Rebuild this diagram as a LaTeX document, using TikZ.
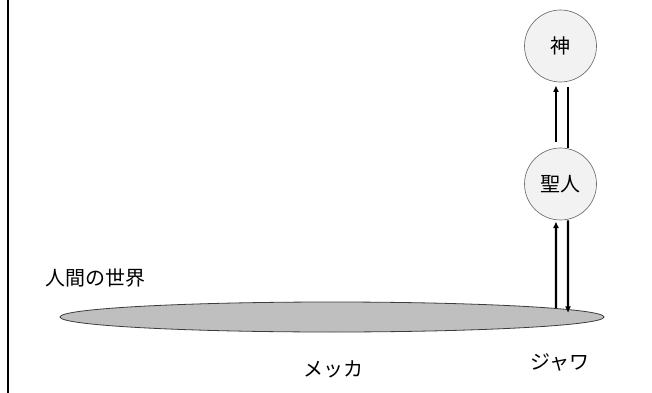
\documentclass[tikz,border=0pt]{standalone}
\usepackage{fontspec}
\newfontfamily\jp{Noto Sans CJK JP}
\usepackage{tikz}
\usetikzlibrary{arrows.meta}
\usepackage{xcolor}

\tikzset{
  being/.style={circle, draw={rgb, 255:red, 110; green, 110; blue, 110}, line width=0.5pt,
    fill={rgb, 255:red, 242; green, 242; blue, 242}, minimum size=54pt, inner sep=0pt, font=\jp\fontsize{15}{17}\selectfont},
  label text/.style={inner sep=0.75pt, font=\jp\fontsize{15}{17}\selectfont},
  path line/.style={line width=1.8pt, color={rgb, 255:red, 0; green, 0; blue, 0}},
  path arrow/.style={path line, -{Latex[length=5pt,width=4.5pt]}}
}

\begin{document}
\begin{tikzpicture}[x=0.75pt,y=0.75pt,yscale=-1,xscale=1]
\path [use as bounding box, fill=white] (0,0) rectangle (652,392);

%Straight Lines: left border
\draw [line width=1.8pt, line cap=rect] (8,0) -- (8,392) ;
%Shape: Ellipse (human world)
\draw [draw={rgb, 255:red, 60; green, 60; blue, 60}, line width=0.6pt, fill={rgb, 255:red, 191; green, 191; blue, 191}] (332,317) ellipse (272 and 15) ;

% Circle Nodes
\node [being] (god) at (560.5,46) {神};
\node [being] (saint) at (560.5,184) {聖人};

% Ends on the ellipse
\coordinate (javaup) at (556,308);
\coordinate (javadown) at (568,313);

% Arrows
\draw [path arrow, shorten <=4.5pt, shorten >=2.25pt] ([xshift=-3.4pt]saint.north) -- ([xshift=-3.4pt]god.south) ;
\draw [path line, shorten <=3.75pt] ([xshift=5.6pt]god.south) -- ([xshift=5.6pt]saint.north) ;
\draw [path arrow, shorten >=0.75pt] (javaup) -- ([xshift=-3.4pt]saint.south) ;
\draw [path arrow] ([xshift=5.6pt]saint.south) -- (javadown) ;

% Text Node
\node [label text] (world) at (95,278) {人間の世界};
% Text Node
\node [label text] (mecca) at (333,369) {メッカ};
% Text Node
\node [label text] (java) at (560,362) {ジャワ};

\end{tikzpicture}
\end{document}
